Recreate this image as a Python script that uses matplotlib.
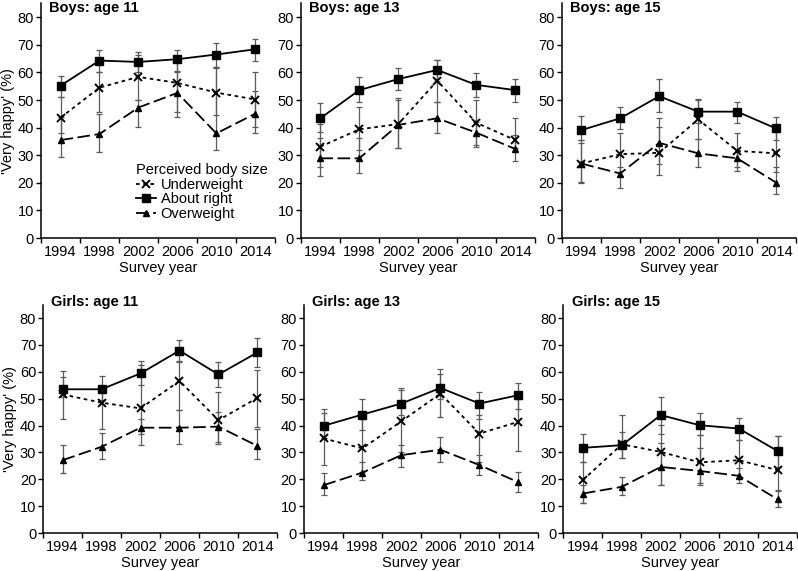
import matplotlib
matplotlib.use("Agg")
import matplotlib.pyplot as plt
import numpy as np

plt.rcParams['font.family'] = ['Liberation Sans', 'DejaVu Sans']

years = ["1994", "1998", "2002", "2006", "2010", "2014"]

# Boys, age 11
b11_right = [55.2, 64.3, 63.8, 64.8, 66.5, 68.4]
b11_right_lo = [51.1, 60.2, 60.0, 60.5, 62.0, 64.2]
b11_right_hi = [58.8, 68.2, 67.4, 68.2, 70.6, 72.0]
b11_under = [43.6, 54.5, 58.4, 56.2, 52.7, 50.2]
b11_under_lo = [37.9, 45.7, 50.0, 45.7, 44.5, 40.2]
b11_under_hi = [51.1, 60.2, 66.5, 66.0, 61.5, 60.2]
b11_over = [35.5, 37.7, 47.3, 52.6, 37.9, 45.1]
b11_over_lo = [29.3, 31.3, 40.3, 43.9, 31.9, 37.9]
b11_over_hi = [43.9, 45.1, 50.0, 60.0, 62.0, 53.3]

# Boys, age 13
b13_right = [43.4, 53.6, 57.6, 60.9, 55.5, 53.6]
b13_right_lo = [38.5, 49.2, 53.6, 57.0, 51.2, 49.4]
b13_right_hi = [48.8, 58.2, 61.5, 64.5, 59.9, 57.7]
b13_under = [33.1, 39.4, 41.3, 57.0, 41.8, 35.5]
b13_under_lo = [25.8, 31.9, 32.5, 49.2, 33.7, 32.5]
b13_under_hi = [41.5, 47.6, 50.6, 64.5, 50.0, 43.4]
b13_over = [28.9, 28.9, 41.0, 43.4, 38.2, 32.3]
b13_over_lo = [22.5, 23.5, 32.7, 38.2, 33.1, 28.0]
b13_over_hi = [36.1, 36.1, 50.0, 49.2, 42.0, 37.3]

# Boys, age 15
b15_right = [39.1, 43.4, 51.4, 45.8, 45.8, 39.7]
b15_right_lo = [35.5, 39.4, 45.8, 41.8, 41.8, 35.5]
b15_right_hi = [44.2, 47.6, 57.5, 50.0, 49.4, 43.9]
b15_under = [27.0, 30.4, 30.9, 43.0, 31.6, 30.7]
b15_under_lo = [20.4, 22.5, 23.0, 36.0, 25.8, 24.0]
b15_under_hi = [35.5, 37.9, 43.5, 50.3, 38.1, 38.5]
b15_over = [27.0, 23.4, 34.5, 30.7, 28.9, 20.1]
b15_over_lo = [19.9, 18.1, 27.0, 25.8, 24.4, 16.0]
b15_over_hi = [34.5, 25.8, 40.3, 36.0, 31.3, 25.8]

# Girls, age 11
g11_right = [53.5, 53.5, 59.4, 67.9, 59.0, 67.2]
g11_right_lo = [50.7, 49.4, 55.0, 63.9, 54.4, 61.8]
g11_right_hi = [60.3, 58.3, 63.9, 72.0, 63.7, 72.4]
g11_under = [51.6, 48.5, 46.4, 56.6, 42.0, 50.3]
g11_under_lo = [42.6, 38.9, 37.0, 45.8, 34.0, 39.5]
g11_under_hi = [58.0, 54.8, 62.5, 63.7, 52.5, 60.6]
g11_over = [27.1, 32.1, 39.2, 39.2, 39.6, 32.4]
g11_over_lo = [22.2, 27.5, 32.7, 33.3, 33.0, 27.5]
g11_over_hi = [32.7, 37.4, 42.6, 45.8, 45.1, 38.9]

# Girls, age 13
g13_right = [39.9, 44.1, 48.2, 54.0, 48.2, 51.3]
g13_right_lo = [35.2, 38.3, 43.9, 50.0, 42.6, 46.3]
g13_right_hi = [46.3, 50.0, 54.0, 60.9, 52.3, 56.0]
g13_under = [35.2, 31.5, 41.6, 51.9, 37.0, 41.4]
g13_under_lo = [25.2, 22.7, 30.2, 43.2, 26.5, 30.7]
g13_under_hi = [44.5, 42.6, 53.2, 59.0, 44.0, 50.0]
g13_over = [17.8, 22.5, 29.0, 31.0, 25.3, 18.9]
g13_over_lo = [14.1, 19.7, 24.6, 26.5, 21.6, 15.3]
g13_over_hi = [22.5, 26.5, 32.7, 35.8, 29.0, 22.8]

# Girls, age 15
g15_right = [31.7, 32.7, 43.9, 40.1, 38.9, 30.5]
g15_right_lo = [26.5, 27.8, 37.0, 36.4, 34.6, 24.6]
g15_right_hi = [37.0, 44.1, 50.6, 44.5, 42.9, 36.2]
g15_under = [19.7, 33.0, 30.2, 26.3, 27.1, 23.4]
g15_under_lo = [11.0, 27.8, 17.8, 18.5, 20.6, 16.0]
g15_under_hi = [26.5, 37.6, 40.1, 36.4, 34.6, 36.2]
g15_over = [14.7, 17.2, 24.6, 23.1, 21.3, 12.5]
g15_over_lo = [11.0, 14.3, 17.8, 17.8, 18.5, 9.8]
g15_over_hi = [17.8, 20.9, 33.6, 31.5, 24.1, 15.6]

labels = ["Underweight", "About right", "Overweight"]
styles = [
    dict(ls=(0, (2, 2)), marker='x', ms=6, mew=1.4),
    dict(ls='-', marker='s', ms=5.5, mew=1),
    dict(ls=(0, (7, 2.5)), marker='^', ms=4.5, mew=1),
]

FS = 10.5


def draw_panel(ax, title, series, ylabel=False, legend=False):
    x = np.arange(6) + 0.5
    lines = []
    for (mean, lo, hi), st, lab in zip(series, styles, labels):
        mean = np.array(mean)
        err = [mean - np.array(lo), np.array(hi) - mean]
        ax.errorbar(x, mean, yerr=err, fmt='none', ecolor='#5a5a5a',
                    elinewidth=0.9, capsize=2, capthick=0.9, zorder=1)
        ln, = ax.plot(x, mean, color='black', lw=1.3, label=lab, zorder=3, **st)
        lines.append(ln)
    ax.set_xlim(0, 6)
    ax.set_ylim(0, 85)
    ax.set_yticks(range(0, 90, 10))
    ax.set_xticks(range(7))
    ax.set_xticklabels([])
    ax.set_xticks(x, minor=True)
    ax.set_xticklabels(years, minor=True)
    ax.tick_params(axis='x', which='major', direction='out', length=3.5, width=1)
    ax.tick_params(axis='x', which='minor', length=0, pad=5, labelsize=FS)
    ax.tick_params(axis='y', direction='out', length=3.5, width=1, pad=1.5, labelsize=FS)
    for s in ['top', 'right']:
        ax.spines[s].set_visible(False)
    for s in ['left', 'bottom']:
        ax.spines[s].set_linewidth(1.1)
    ax.set_xlabel("Survey year", fontsize=FS, labelpad=1.5)
    if ylabel:
        ax.set_ylabel("'Very happy' (%)", fontsize=FS, labelpad=2)
    ax.text(0.035, title[1], title[0], transform=ax.transAxes, fontsize=FS,
            fontweight='bold', va='center', ha='left')
    if legend:
        ax.legend(handles=lines, title="Perceived body size", loc='upper left',
                  bbox_to_anchor=(0.405, 0.32), frameon=False, fontsize=FS,
                  title_fontsize=FS, handlelength=1.4, handletextpad=0.3,
                  labelspacing=0.05, borderaxespad=0, borderpad=0,
                  alignment='left')


fig = plt.figure(figsize=(7.98, 5.71), dpi=100)

w = 0.293
top_y, top_h = 0.583, 0.411
bot_y, bot_h = 0.0665, 0.400

ax1 = fig.add_axes([0.0514, top_y, w, top_h])
ax2 = fig.add_axes([0.377, top_y, w, top_h])
ax3 = fig.add_axes([0.704, top_y, w, top_h])
ax4 = fig.add_axes([0.054, bot_y, w, bot_h])
ax5 = fig.add_axes([0.381, bot_y, w, bot_h])
ax6 = fig.add_axes([0.706, bot_y, w, bot_h])

draw_panel(ax1, ("Boys: age 11", 0.98),
           [(b11_under, b11_under_lo, b11_under_hi),
            (b11_right, b11_right_lo, b11_right_hi),
            (b11_over, b11_over_lo, b11_over_hi)], ylabel=True, legend=True)
draw_panel(ax2, ("Boys: age 13", 0.98),
           [(b13_under, b13_under_lo, b13_under_hi),
            (b13_right, b13_right_lo, b13_right_hi),
            (b13_over, b13_over_lo, b13_over_hi)])
draw_panel(ax3, ("Boys: age 15", 0.98),
           [(b15_under, b15_under_lo, b15_under_hi),
            (b15_right, b15_right_lo, b15_right_hi),
            (b15_over, b15_over_lo, b15_over_hi)])
draw_panel(ax4, ("Girls: age 11", 1.01),
           [(g11_under, g11_under_lo, g11_under_hi),
            (g11_right, g11_right_lo, g11_right_hi),
            (g11_over, g11_over_lo, g11_over_hi)], ylabel=True)
draw_panel(ax5, ("Girls: age 13", 1.01),
           [(g13_under, g13_under_lo, g13_under_hi),
            (g13_right, g13_right_lo, g13_right_hi),
            (g13_over, g13_over_lo, g13_over_hi)])
draw_panel(ax6, ("Girls: age 15", 1.01),
           [(g15_under, g15_under_lo, g15_under_hi),
            (g15_right, g15_right_lo, g15_right_hi),
            (g15_over, g15_over_lo, g15_over_hi)])

fig.savefig("out.png", dpi=100)
